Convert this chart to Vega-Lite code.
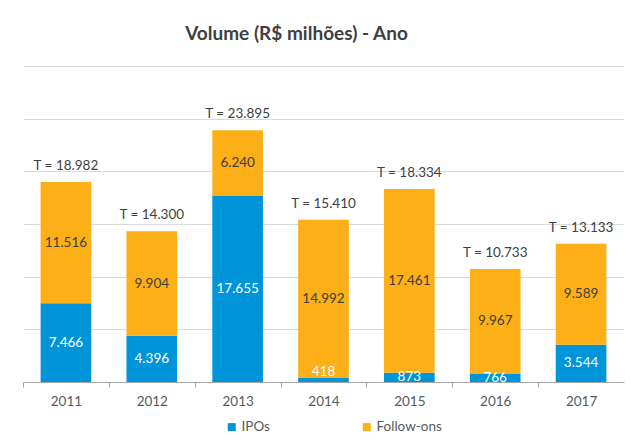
{
  "$schema": "https://vega.github.io/schema/vega-lite/v6.json",
  "width": 601,
  "height": 316,
  "autosize": {"type": "none"},
  "padding": {"left": 23, "top": 66, "right": 7, "bottom": 63},
  "background": "white",
  "config": {
    "locale": {"number": {"decimal": ",", "thousands": ".", "grouping": [3], "currency": ["R$ ", ""]}},
    "view": {"stroke": null},
    "font": "Lato"
  },
  "title": {
    "text": "Volume (R$ milhões) - Ano",
    "font": "Lato",
    "fontSize": 19,
    "fontWeight": "bold",
    "color": "#404040",
    "anchor": "middle",
    "dx": -27,
    "offset": 22
  },
  "data": {
    "values": [
      {"year": "2011", "series": "IPOs", "value": 7466},
      {"year": "2011", "series": "Follow-ons", "value": 11516},
      {"year": "2012", "series": "IPOs", "value": 4396},
      {"year": "2012", "series": "Follow-ons", "value": 9904},
      {"year": "2013", "series": "IPOs", "value": 17655},
      {"year": "2013", "series": "Follow-ons", "value": 6240},
      {"year": "2014", "series": "IPOs", "value": 418},
      {"year": "2014", "series": "Follow-ons", "value": 14992},
      {"year": "2015", "series": "IPOs", "value": 873},
      {"year": "2015", "series": "Follow-ons", "value": 17461},
      {"year": "2016", "series": "IPOs", "value": 766},
      {"year": "2016", "series": "Follow-ons", "value": 9967},
      {"year": "2017", "series": "IPOs", "value": 3544},
      {"year": "2017", "series": "Follow-ons", "value": 9589}
    ]
  },
  "encoding": {
    "x": {
      "field": "year",
      "type": "nominal",
      "scale": {"paddingInner": 0.41, "paddingOuter": 0.205},
      "axis": {
        "title": null,
        "labelAngle": 0,
        "labelFont": "Lato",
        "labelFontSize": 13.5,
        "labelColor": "#595959",
        "domainColor": "#A6A6A6",
        "tickColor": "#A6A6A6",
        "tickSize": 5,
        "tickOffset": -42.93,
        "labelOffset": 42.93,
        "labelPadding": 7,
        "grid": false
      }
    }
  },
  "layer": [
    {
      "mark": {"type": "bar"},
      "encoding": {
        "y": {
          "field": "value",
          "type": "quantitative",
          "stack": "zero",
          "scale": {"domain": [0, 30000], "nice": false},
          "axis": {
            "title": null,
            "labels": false,
            "ticks": false,
            "domain": false,
            "grid": true,
            "gridColor": "#D9D9D9",
            "gridWidth": 1,
            "values": [5000, 10000, 15000, 20000, 25000, 30000]
          }
        },
        "order": {"field": "series", "sort": "descending"},
        "color": {
          "field": "series",
          "type": "nominal",
          "sort": ["IPOs", "Follow-ons"],
          "scale": {"domain": ["IPOs", "Follow-ons"], "range": ["#0095D8", "#FCAF17"]},
          "legend": {
            "title": null,
            "orient": "none",
            "direction": "horizontal",
            "legendX": 202,
            "legendY": 354,
            "symbolType": "square",
            "symbolSize": 64,
            "symbolStrokeWidth": 0,
            "labelFont": "Lato",
            "labelFontSize": 13.5,
            "labelColor": "#595959",
            "labelOffset": 3,
            "columnPadding": 90
          }
        }
      }
    },
    {
      "mark": {
        "type": "text",
        "clip": true,
        "font": "Lato",
        "fontSize": 13.5,
        "baseline": "middle",
        "dy": {"expr": "datum.year == '2014' && datum.series == 'IPOs' ? -8 : 0"}
      },
      "encoding": {
        "y": {"field": "value", "type": "quantitative", "stack": "zero", "bandPosition": 0.5},
        "order": {"field": "series", "sort": "descending"},
        "detail": {"field": "series"},
        "text": {"field": "value", "type": "quantitative", "format": ",d"},
        "color": {
          "condition": {"test": "datum.series == 'IPOs'", "value": "#FFFFFF"},
          "value": "#404040"
        }
      }
    },
    {
      "transform": [
        {"aggregate": [{"op": "sum", "field": "value", "as": "total"}], "groupby": ["year"]}
      ],
      "mark": {
        "type": "text",
        "font": "Lato",
        "fontSize": 13.5,
        "color": "#404040",
        "baseline": "bottom",
        "dy": -9,
        "text": {"expr": "'T = ' + format(datum.total, ',d')"}
      },
      "encoding": {
        "y": {"field": "total", "type": "quantitative"}
      }
    }
  ]
}
